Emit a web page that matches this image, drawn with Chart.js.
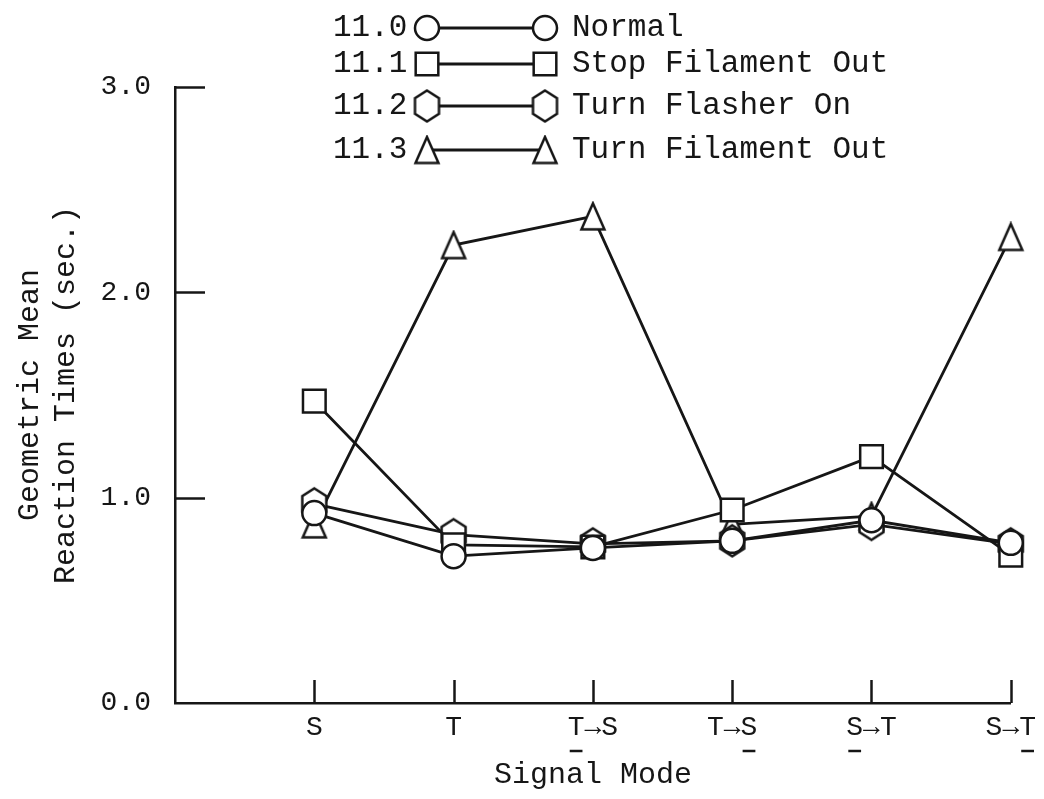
<!DOCTYPE html>
<html>
<head>
<meta charset="utf-8">
<script src="https://cdn.jsdelivr.net/npm/chart.js@4/dist/chart.umd.min.js"></script>
<style>
  html, body { margin: 0; padding: 0; background: #fff; }
  #wrap { width: 1044px; height: 799px; }
</style>
</head>
<body>
<div id="wrap"><canvas id="c" width="1044" height="799"></canvas></div>
<script>
// Signal modes along the x axis; the underlined character of each label (-1 = none)
const modes = ['S', 'T', 'T→S', 'T→S', 'S→T', 'S→T'];
const underlinedChar = [-1, -1, 0, 2, 0, 2];

// Condition codes and names
const codes = ['11.0', '11.1', '11.2', '11.3'];
const names = ['Normal', 'Stop Filament Out', 'Turn Flasher On', 'Turn Filament Out'];

// Geometric mean reaction times (sec.) per signal mode
const normal        = [0.925, 0.715, 0.755, 0.79, 0.89, 0.78];
const stopFilament  = [1.47, 0.77, 0.76, 0.94, 1.20, 0.72];
const turnFlasher   = [0.97, 0.82, 0.775, 0.79, 0.87, 0.775];
const turnFilament  = [0.87, 2.23, 2.37, 0.87, 0.91, 2.27];

// Y axis ticks
const yTicks = [0.0, 1.0, 2.0, 3.0];

const FONT = '"Liberation Mono", "DejaVu Sans Mono", monospace';
const INK = '#161616';

// Outlined polygon marker drawn once to an offscreen canvas (unit coordinates in -1..1)
function polygonMarker(points, w, h, lw) {
  const cw = Math.ceil(w + lw * 2), ch = Math.ceil(h + lw * 2);
  const cv = document.createElement('canvas');
  cv.width = cw; cv.height = ch;
  const g = cv.getContext('2d');
  g.beginPath();
  points.forEach(([px, py], k) => {
    const X = cw / 2 + px * w / 2, Y = ch / 2 + py * h / 2;
    if (k === 0) g.moveTo(X, Y); else g.lineTo(X, Y);
  });
  g.closePath();
  g.fillStyle = '#fff';
  g.fill();
  g.lineWidth = lw;
  g.lineJoin = 'miter';
  g.strokeStyle = INK;
  g.stroke();
  return cv;
}
const hexagon = polygonMarker(
  [[0, -1], [1, -0.5], [1, 0.5], [0, 1], [-1, 0.5], [-1, -0.5]], 24, 31, 2.5);
const triangle = polygonMarker(
  [[0, -1], [1, 1], [-1, 1]], 23, 26, 2.5);

const seriesValues = [normal, stopFilament, turnFlasher, turnFilament];
const markerStyle = [
  { pointStyle: 'circle', radius: 12 },
  { pointStyle: 'rect',   radius: 16 },
  { pointStyle: hexagon,  radius: 14 },
  { pointStyle: triangle, radius: 14 }
];

const datasets = seriesValues.map((vals, i) => ({
  label: names[i],
  data: vals.map((v, k) => ({ x: k, y: v })),
  borderColor: INK,
  borderWidth: 2.8,
  backgroundColor: '#fff',
  pointStyle: markerStyle[i].pointStyle,
  pointRadius: markerStyle[i].radius,
  pointBorderWidth: 2.5,
  pointBorderColor: INK,
  pointBackgroundColor: '#fff',
  tension: 0,
  fill: false,
  clip: false
}));

// Inward tick marks, label underlines and the coded legend
const decorations = {
  id: 'decorations',
  afterDraw(chart) {
    const { ctx, chartArea, scales: { x, y } } = chart;
    ctx.save();
    ctx.strokeStyle = INK;
    ctx.lineWidth = 2.5;
    ctx.lineCap = 'butt';

    // y ticks pointing into the plot
    yTicks.filter(v => v > 0).forEach(v => {
      const py = Math.round(y.getPixelForValue(v)) + 0.5;
      ctx.beginPath();
      ctx.moveTo(chartArea.left, py);
      ctx.lineTo(chartArea.left + 30, py);
      ctx.stroke();
    });

    // x ticks pointing up from the axis
    modes.forEach((m, i) => {
      const px = Math.round(x.getPixelForValue(i)) + 0.5;
      ctx.beginPath();
      ctx.moveTo(px, chartArea.bottom);
      ctx.lineTo(px, chartArea.bottom - 23);
      ctx.stroke();
    });

    // underline the marked character in the mode labels
    ctx.font = '28px ' + FONT;
    modes.forEach((m, i) => {
      const k = underlinedChar[i];
      if (k < 0) return;
      const px = x.getPixelForValue(i);
      const total = ctx.measureText(m).width;
      const start = px - total / 2 + ctx.measureText(m.slice(0, k)).width;
      const cw = ctx.measureText(m[k]).width;
      const uy = chartArea.bottom + 48;
      ctx.beginPath();
      ctx.moveTo(start + cw * 0.12, uy);
      ctx.lineTo(start + cw * 0.88, uy);
      ctx.stroke();
    });

    // legend: code, marker, line, marker, name
    const rowY = [28, 64, 106, 150];
    const xCode = 333, xM1 = 427, xM2 = 545, xName = 572;
    ctx.font = '31px ' + FONT;
    ctx.textBaseline = 'middle';
    chart.data.datasets.forEach((ds, i) => {
      const yy = rowY[i];
      ctx.fillStyle = INK;
      ctx.textAlign = 'left';
      ctx.fillText(codes[i], xCode, yy);
      ctx.fillText(names[i], xName, yy);
      ctx.strokeStyle = INK;
      ctx.lineWidth = 2.8;
      ctx.beginPath();
      ctx.moveTo(xM1, yy);
      ctx.lineTo(xM2, yy);
      ctx.stroke();
      [xM1, xM2].forEach(mx => {
        ctx.fillStyle = '#fff';
        ctx.strokeStyle = INK;
        ctx.lineWidth = ds.pointBorderWidth;
        Chart.helpers.drawPoint(ctx, {
          pointStyle: ds.pointStyle,
          radius: ds.pointRadius,
          borderWidth: ds.pointBorderWidth,
          rotation: 0
        }, mx, yy);
      });
    });
    ctx.restore();
  }
};

new Chart(document.getElementById('c'), {
  type: 'line',
  data: { datasets },
  plugins: [decorations],
  options: {
    responsive: false,
    animation: false,
    events: [],
    devicePixelRatio: 1,
    layout: { padding: { top: 87, right: 29, left: 0, bottom: 0 } },
    plugins: { legend: { display: false }, tooltip: { enabled: false } },
    scales: {
      x: {
        type: 'linear',
        min: -1,
        max: 5,
        afterFit(scale) { scale.height = 96; },
        afterBuildTicks(scale) { scale.ticks = modes.map((m, i) => ({ value: i })); },
        grid: { display: true, drawOnChartArea: false, drawTicks: false },
        border: { display: true, color: INK, width: 2.5 },
        ticks: {
          padding: 8,
          color: INK,
          maxRotation: 0,
          autoSkip: false,
          font: { family: FONT, size: 28, lineHeight: 1.2 },
          callback: (v) => modes[v] ?? ''
        },
        title: {
          display: true,
          text: 'Signal Mode',
          color: INK,
          font: { family: FONT, size: 30, lineHeight: 1.2 },
          padding: { top: 0, bottom: 6 }
        }
      },
      y: {
        type: 'linear',
        min: 0,
        max: 3,
        afterFit(scale) { scale.width = 175; },
        afterBuildTicks(scale) { scale.ticks = yTicks.map(v => ({ value: v })); },
        grid: { display: true, drawOnChartArea: false, drawTicks: false },
        border: { display: true, color: INK, width: 2.5 },
        ticks: {
          padding: 24,
          color: INK,
          font: { family: FONT, size: 28, lineHeight: 1.2 },
          callback: (v) => Number(v).toFixed(1)
        },
        title: {
          display: true,
          text: ['Geometric Mean', 'Reaction Times (sec.)'],
          color: INK,
          font: { family: FONT, size: 30, lineHeight: 1.2 },
          padding: { top: 12, bottom: 0 }
        }
      }
    }
  }
});
</script>
</body>
</html>
